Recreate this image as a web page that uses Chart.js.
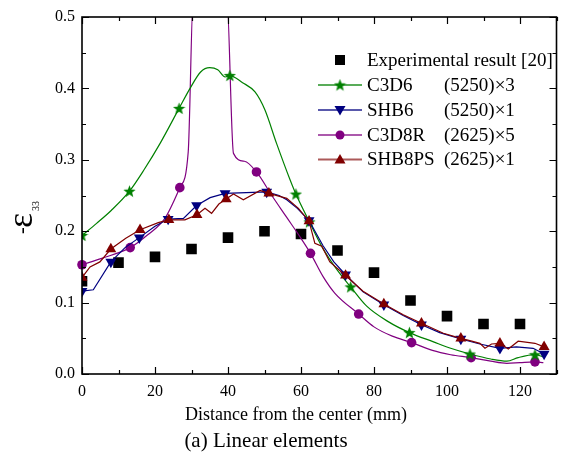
<!DOCTYPE html>
<html>
<head>
<meta charset="utf-8">
<script src="https://cdn.jsdelivr.net/npm/chart.js@4.4.0/dist/chart.umd.min.js"></script>
<style>
  html, body { margin: 0; padding: 0; background: #fff; }
  #wrap { width: 564px; height: 454px; position: relative; }
</style>
</head>
<body>
<div id="wrap"><canvas id="strainChart" width="564" height="454"></canvas></div>
<script>
// experimental points
const expX = [0, 10, 20, 30, 40, 50, 60, 70, 80, 90, 100, 110, 120];
const expY = [0.130, 0.156, 0.164, 0.175, 0.191, 0.200, 0.196, 0.173, 0.142, 0.103, 0.081, 0.070, 0.070];

// C3D6 (green)
const c3d6X = [0, 4, 8, 13, 17, 21.4, 26.6, 29.6, 32.5, 35, 37.2, 39.2, 40.5, 44, 47.4, 50.1, 53.3, 57, 58.6, 62.3, 66, 70, 73.6, 78, 84, 89.7, 96.3, 101, 106.3, 112, 116.4, 119.5, 124.1, 126.4];
const c3d6Y = [0.194, 0.211, 0.229, 0.256, 0.286, 0.323, 0.372, 0.400, 0.423, 0.429, 0.426, 0.416, 0.418, 0.408, 0.395, 0.370, 0.323, 0.272, 0.252, 0.213, 0.176, 0.145, 0.122, 0.095, 0.073, 0.058, 0.045, 0.036, 0.028, 0.021, 0.018, 0.023, 0.027, 0.024];
const c3d6Marks = [0, 13, 26.6, 40.5, 58.6, 62.3, 73.6, 89.7, 106.3, 124.1];

// SHB6 (blue)
const shb6X = [0, 3.1, 7.9, 11.8, 15.7, 20, 23.6, 27.8, 31.4, 35.1, 39.2, 45, 50.6, 54, 56.1, 59, 62.2, 66, 69, 72.2, 77, 82.7, 88, 93, 98, 103.8, 109, 114.5, 119, 123.6, 126.6];
const shb6Y = [0.116, 0.118, 0.157, 0.177, 0.191, 0.207, 0.217, 0.218, 0.236, 0.247, 0.253, 0.254, 0.255, 0.250, 0.244, 0.232, 0.215, 0.180, 0.157, 0.139, 0.115, 0.097, 0.082, 0.069, 0.058, 0.049, 0.042, 0.036, 0.038, 0.036, 0.028];
const shb6Marks = [0, 7.9, 15.7, 23.6, 31.4, 39.2, 50.6, 62.2, 72.2, 82.7, 93, 103.8, 114.5, 126.6];

// C3D8R (purple)
const c3d8rX = [0, 5.4, 13.2, 18, 22.7, 26.8, 29.1, 30.5, 39.65, 41.5, 44.5, 47.8, 52, 56, 60, 62.6, 66.1, 69.3, 75.8, 80, 85, 90.3, 96, 101, 106.6, 112, 116.4, 120, 124.1, 126.4];
const c3d8rY = [0.153, 0.162, 0.177, 0.195, 0.218, 0.261, 0.311, 0.53, 0.53, 0.309, 0.298, 0.283, 0.250, 0.220, 0.190, 0.169, 0.136, 0.113, 0.084, 0.066, 0.053, 0.044, 0.033, 0.027, 0.023, 0.018, 0.015, 0.016, 0.017, 0.016];
const c3d8rMarks = [0, 13.2, 26.8, 47.8, 62.6, 75.8, 90.3, 106.6, 124.1];

// SHB8PS (dark red)
const shb8psX = [0, 2.2, 4.9, 7.9, 12, 15.9, 20.9, 23.8, 28.2, 31.5, 33.7, 35.5, 37.5, 39.5, 41.5, 44.2, 48.8, 51.2, 56.1, 59.3, 62.2, 63.8, 65.7, 67.9, 72.2, 77, 82.7, 88, 93, 99, 103.8, 106.8, 109, 110.4, 112.2, 114.5, 116.8, 119.5, 124.1, 126.6];
const shb8psY = [0.135, 0.150, 0.157, 0.175, 0.190, 0.202, 0.212, 0.216, 0.216, 0.223, 0.232, 0.225, 0.238, 0.245, 0.252, 0.244, 0.257, 0.253, 0.246, 0.232, 0.214, 0.183, 0.179, 0.157, 0.138, 0.116, 0.098, 0.083, 0.071, 0.057, 0.050, 0.046, 0.043, 0.036, 0.042, 0.043, 0.035, 0.046, 0.043, 0.038];
const shb8psMarks = [0, 7.9, 15.9, 23.8, 31.5, 39.5, 51.2, 62.2, 72.2, 82.7, 93, 103.8, 114.5, 126.6];

const seriesNames = ["Experimental result [20]", "C3D6", "SHB6", "C3D8R", "SHB8PS"];
const meshInfo = ["", "(5250)\u00d73", "(5250)\u00d71", "(2625)\u00d75", "(2625)\u00d71"];
const xTicks = [0, 20, 40, 60, 80, 100, 120];
const yTicks = [0.0, 0.1, 0.2, 0.3, 0.4, 0.5];

const GREEN = "#008000", BLUE = "#000080", PURPLE = "#800080", RED = "#800000";
const FONT = '"Liberation Serif", "Times New Roman", serif';

function makeStar(color, size) {
  const c = document.createElement("canvas");
  c.width = size; c.height = size;
  const g = c.getContext("2d");
  g.fillStyle = color;
  g.beginPath();
  for (let i = 0; i < 10; i++) {
    const r = i % 2 ? size * 0.21 : size * 0.5;
    const a = -Math.PI / 2 + i * Math.PI / 5;
    const px = size / 2 + r * Math.cos(a), py = size / 2 + 0.5 + r * Math.sin(a);
    if (i === 0) g.moveTo(px, py); else g.lineTo(px, py);
  }
  g.closePath();
  g.fill();
  return c;
}
const starImg = makeStar(GREEN, 13);

function toPoints(xs, ys) {
  return xs.map((x, i) => ({ x: x, y: ys[i] }));
}
function markRadius(xs, marks, r) {
  return xs.map(x => (marks.includes(x) ? r : 0));
}

const expData = toPoints(expX, expY);

const datasets = [
  {
    label: seriesNames[0], data: expData, showLine: false, order: 5,
    pointStyle: "rect", pointRadius: 7.5, backgroundColor: "#000", borderColor: "#000", borderWidth: 0
  },
  {
    label: seriesNames[3], data: toPoints(c3d8rX, c3d8rY), order: 4,
    borderColor: PURPLE, backgroundColor: PURPLE, borderWidth: 1.2, cubicInterpolationMode: "monotone",
    pointStyle: "circle", pointRadius: markRadius(c3d8rX, c3d8rMarks, 4.8), pointBorderWidth: 0,
    clip: { left: 10, right: 10, top: 0, bottom: 10 }
  },
  {
    label: seriesNames[1], data: toPoints(c3d6X, c3d6Y), order: 3,
    borderColor: GREEN, backgroundColor: GREEN, borderWidth: 1.2, cubicInterpolationMode: "monotone",
    pointStyle: starImg, pointRadius: markRadius(c3d6X, c3d6Marks, 6)
  },
  {
    label: seriesNames[2], data: toPoints(shb6X, shb6Y), order: 2,
    borderColor: BLUE, backgroundColor: BLUE, borderWidth: 1.2, tension: 0,
    pointStyle: "triangle", rotation: 180, pointRadius: markRadius(shb6X, shb6Marks, 6.3), pointBorderWidth: 0
  },
  {
    label: seriesNames[4], data: toPoints(shb8psX, shb8psY), order: 1,
    borderColor: RED, backgroundColor: RED, borderWidth: 1.2, tension: 0,
    pointStyle: "triangle", pointRadius: markRadius(shb8psX, shb8psMarks, 6.3), pointBorderWidth: 0
  }
];

// frame, inward ticks, titles and legend
const decorPlugin = {
  id: "decor",
  afterDatasetsDraw(chart) {
    const ctx = chart.ctx;
    const a = chart.chartArea;
    const xs = chart.scales.x, ys = chart.scales.y;
    ctx.save();
    ctx.strokeStyle = "#000";
    ctx.lineWidth = 1.6;
    ctx.strokeRect(a.left, a.top, a.right - a.left, a.bottom - a.top);

    ctx.lineWidth = 1.2;
    ctx.beginPath();
    for (let v = 0; v <= 130; v += 10) {
      const px = Math.round(xs.getPixelForValue(v)) + 0.5;
      const len = v % 20 === 0 ? 7 : 4;
      ctx.moveTo(px, a.bottom); ctx.lineTo(px, a.bottom - len);
      ctx.moveTo(px, a.top); ctx.lineTo(px, a.top + len);
    }
    for (let k = 0; k <= 10; k++) {
      const v = k * 0.05;
      const py = Math.round(ys.getPixelForValue(v)) + 0.5;
      const len = k % 2 === 0 ? 7 : 4;
      ctx.moveTo(a.left, py); ctx.lineTo(a.left + len, py);
      ctx.moveTo(a.right, py); ctx.lineTo(a.right - len, py);
    }
    ctx.stroke();

    // axis titles
    ctx.fillStyle = "#000";
    ctx.textAlign = "center";
    ctx.textBaseline = "alphabetic";
    ctx.font = "18px " + FONT;
    ctx.fillText("Distance from the center (mm)", 296, 420);
    ctx.font = "21px " + FONT;
    ctx.fillText("(a) Linear elements", 266, 447);

    ctx.save();
    ctx.translate(32, 235);
    ctx.rotate(-Math.PI / 2);
    ctx.textAlign = "left";
    ctx.font = "20px " + FONT;
    ctx.fillText("-", 1, -4);
    ctx.font = "36px " + FONT;
    ctx.fillText("\u03b5", 7, 0);
    ctx.font = "10px " + FONT;
    ctx.fillText("33", 24, 7);
    ctx.restore();

    // legend
    const lx0 = 318, lx1 = 362, mx = 340, tx = 367, tx2 = 444;
    const rowY = [60, 85, 110, 135, 159.5];
    const colors = ["#000", GREEN, BLUE, PURPLE, RED];
    ctx.font = "19px " + FONT;
    ctx.textAlign = "left";
    ctx.textBaseline = "middle";
    for (let i = 0; i < seriesNames.length; i++) {
      const y = rowY[i];
      if (i > 0) {
        ctx.save();
        ctx.globalAlpha = 0.65;
        ctx.strokeStyle = colors[i];
        ctx.lineWidth = 1.8;
        ctx.beginPath();
        ctx.moveTo(lx0, y); ctx.lineTo(lx1, y);
        ctx.stroke();
        ctx.restore();
      }
      ctx.fillStyle = colors[i];
      ctx.beginPath();
      if (i === 0) {
        ctx.rect(mx - 5, y - 5, 10, 10);
      } else if (i === 1) {
        ctx.drawImage(starImg, mx - 6.5, y - 6.5);
      } else if (i === 2) {
        ctx.moveTo(mx - 5.5, y - 4); ctx.lineTo(mx + 5.5, y - 4); ctx.lineTo(mx, y + 5.5);
      } else if (i === 3) {
        ctx.arc(mx, y, 4.5, 0, Math.PI * 2);
      } else {
        ctx.moveTo(mx - 5.5, y + 4); ctx.lineTo(mx + 5.5, y + 4); ctx.lineTo(mx, y - 5.5);
      }
      ctx.fill();
      ctx.fillStyle = "#000";
      ctx.fillText(seriesNames[i], tx, y + 1);
      if (meshInfo[i]) ctx.fillText(meshInfo[i], tx2, y + 1);
    }
    ctx.restore();
  }
};

new Chart(document.getElementById("strainChart"), {
  type: "line",
  data: { datasets: datasets },
  plugins: [decorPlugin],
  options: {
    responsive: false,
    animation: false,
    layout: { padding: { top: 17, right: 7, left: 0, bottom: 0 } },
    plugins: { legend: { display: false }, tooltip: { enabled: false } },
    scales: {
      x: {
        type: "linear", min: 0, max: 130,
        grid: { display: false, drawTicks: false },
        border: { display: false },
        afterFit: s => { s.height = 80; },
        afterBuildTicks: s => { s.ticks = xTicks.map(v => ({ value: v })); },
        ticks: { padding: 8, color: "#000", font: { family: FONT, size: 16 }, maxRotation: 0 }
      },
      y: {
        type: "linear", min: 0, max: 0.5,
        grid: { display: false, drawTicks: false },
        border: { display: false },
        afterFit: s => { s.width = 82; },
        afterBuildTicks: s => { s.ticks = yTicks.map(v => ({ value: v })); },
        ticks: { padding: 7, color: "#000", font: { family: FONT, size: 16 }, callback: v => v.toFixed(1) }
      }
    }
  }
});
</script>
</body>
</html>
